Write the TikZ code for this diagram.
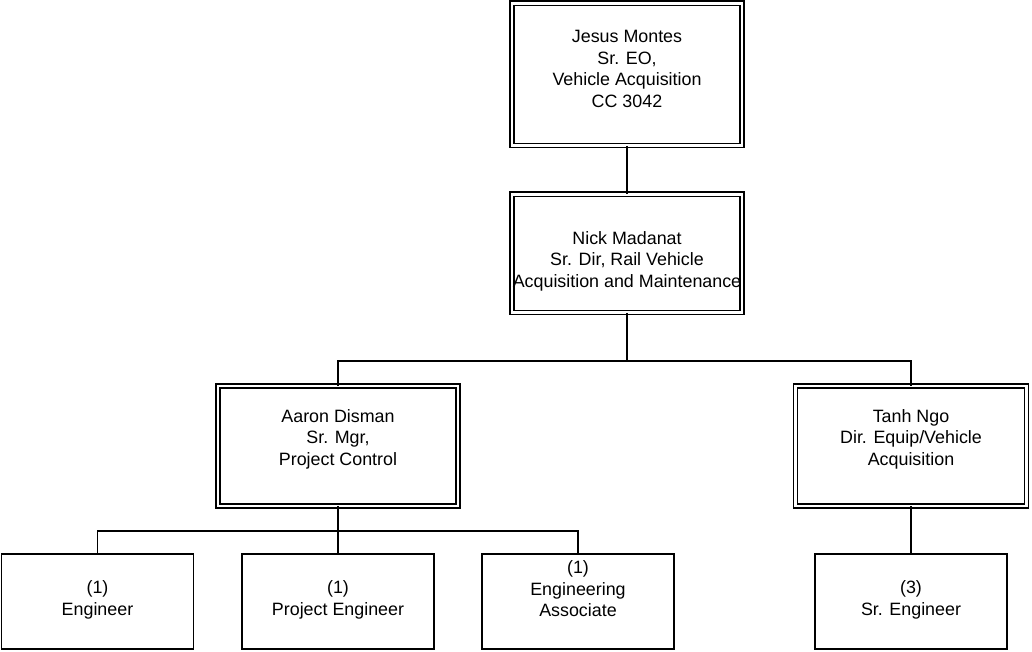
\documentclass[tikz,border=0pt]{standalone}
\usepackage{fontspec}
\setmainfont{Liberation Sans}
\begin{document}
\begin{tikzpicture}[x=0.75pt,y=-0.75pt,
  txt/.style={align=center,font=\fontsize{13.4pt}{16.2pt}\selectfont,inner sep=0pt,outer sep=0pt},
  dbox/.style={draw,line width=0.9pt,double,double distance=2.2pt,inner sep=0pt,outer sep=0pt},
  sbox/.style={draw,line width=1.3pt,inner sep=0pt,outer sep=0pt},
  conn/.style={line width=0.9pt}]
\useasboundingbox (0,0) rectangle (1032,652);
% boxes
\node[dbox,minimum width=172.5pt,minimum height=107pt] (jm) at (627,74.5) {};
\node[dbox,minimum width=172.5pt,minimum height=89pt] (nm) at (627,253.5) {};
\node[dbox,minimum width=180pt,minimum height=90pt] (ad) at (338,446) {};
\node[dbox,minimum width=173pt,minimum height=90pt] (tn) at (911,446) {};
\node[sbox,minimum width=144pt,minimum height=71pt] (en) at (97.5,601.5) {};
\node[sbox,minimum width=144pt,minimum height=71pt] (pe) at (338,601.5) {};
\node[sbox,minimum width=144pt,minimum height=71pt] (ea) at (578,601.5) {};
\node[sbox,minimum width=144pt,minimum height=71pt] (se) at (911,601.5) {};
% texts
\node[txt] (jmt) at (627,69) {Jesus Montes\\Sr. EO,\\Vehicle Acquisition\\CC 3042};
\node[txt] (nmt) at (627,261) {Nick Madanat\\Sr. Dir, Rail Vehicle\\Acquisition and Maintenance};
\node[txt] (adt) at (338,439) {Aaron Disman\\Sr. Mgr,\\Project Control};
\node[txt] (tnt) at (911,439) {Tanh Ngo\\Dir. Equip/Vehicle\\Acquisition};
\node[txt] (ent) at (97.5,600) {(1)\\Engineer};
\node[txt] (pet) at (338,600) {(1)\\Project Engineer};
\node[txt] (eat) at (578,589) {(1)\\Engineering\\Associate};
\node[txt] (set) at (911,600) {(3)\\Sr. Engineer};
% connectors
\coordinate (j1) at (627,361);
\coordinate (j2) at (338,531);
\draw[conn] (jm.south) -- (nm.north);
\draw[conn] (nm.south) -- (j1);
\draw[conn] (ad.north) |- (j1) -| (tn.north);
\draw[conn] (ad.south) -- (j2);
\draw[conn] (en.north) |- (j2) -| (ea.north);
\draw[conn] (pe.north) -- (j2);
\draw[conn] (tn.south) -- (se.north);
\end{tikzpicture}
\end{document}
